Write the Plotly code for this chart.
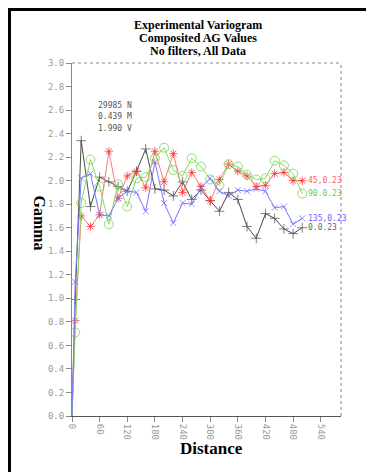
import plotly.graph_objects as go

lags = [0, 7, 20, 40, 60, 80, 100, 120, 140, 160, 180, 200, 220, 240, 260, 280,
        300, 320, 340, 360, 380, 400, 420, 440, 460, 480, 500]

gamma_0 = [0, 0.99, 2.34, 1.78, 2.03, 1.99, 1.95, 1.91, 2.08, 2.27, 1.93, 1.92, 1.87,
           1.99, 1.84, 1.92, 1.83, 1.74, 1.90, 1.84, 1.61, 1.51, 1.72, 1.68, 1.59, 1.55, 1.60]
gamma_45 = [0, 0.81, 1.70, 1.61, 1.71, 2.25, 1.85, 2.04, 2.08, 1.94, 2.25, 1.99, 2.23,
            1.90, 2.07, 1.95, 1.83, 2.01, 2.14, 2.08, 2.04, 1.95, 1.96, 2.06, 2.07, 2.00, 2.00]
gamma_90 = [0, 0.71, 1.81, 2.18, 1.95, 1.63, 1.97, 1.78, 2.02, 2.03, 2.19, 2.28, 2.09,
            2.04, 2.19, 2.12, 2.01, 1.96, 2.14, 2.12, 2.05, 2.01, 2.02, 2.17, 2.13, 2.06, 1.89]
gamma_135 = [0, 1.14, 2.02, 2.06, 1.71, 1.70, 1.85, 1.91, 1.90, 1.74, 2.16, 1.81, 1.64,
             1.81, 1.80, 1.94, 2.02, 1.91, 1.87, 1.92, 1.91, 1.93, 1.91, 1.77, 1.78, 1.63, 1.68]

series_labels = ["0.0.23", "45,0.23", "90.0.23", "135,0.23"]
x_ticks = [0, 60, 120, 180, 240, 300, 360, 420, 480, 540]
y_ticks = [round(0.2 * i, 1) for i in range(16)]
stats_text = ["29985 N", "0.439 M", "1.990 V"]
title_lines = ["Experimental Variogram", "Composited AG Values", "No filters, All Data"]

W, H = 374, 472
L, R, T, B = 64, 41, 55, 64
PW, PH = W - L - R, H - T - B

def px(x):
    return (x - L) / PW

def py(y):
    return (H - B - y) / PH

styles = [
    (gamma_0, "#4a4a4a", "#4a4a4a", "cross-thin", 7, "#666666"),
    (gamma_45, "#ff7878", "#ff2020", "asterisk-open", 7, "#ff6060"),
    (gamma_90, "#88dd66", "#66cc44", "circle-open", 9, "#66cc44"),
    (gamma_135, "#7777ff", "#6666ff", "x-thin", 6, "#6666ff"),
]

fig = go.Figure()
for (vals, lc, mc, sym, ms, tc), lab in zip(styles, series_labels):
    sizes = [0] + [ms] * (len(vals) - 1)
    fig.add_trace(go.Scatter(
        x=lags, y=vals, mode="lines+markers",
        line=dict(color=lc, width=1),
        marker=dict(symbol=sym, size=sizes, color=mc,
                    line=dict(color=mc, width=1)),
        showlegend=False, hoverinfo="skip"))
    fig.add_annotation(x=lags[-1], y=vals[-1], xref="x", yref="y", text=lab,
                       showarrow=False, xanchor="left", yanchor="middle", xshift=4,
                       font=dict(family="DejaVu Sans Mono", size=8, color=tc))

for i, s in enumerate(stats_text):
    fig.add_annotation(x=px(88), y=py(97 + 11.5 * i), xref="paper", yref="paper",
                       text=s, showarrow=False, xanchor="left", yanchor="middle",
                       font=dict(family="DejaVu Sans Mono", size=8, color="#555555"))

for i, s in enumerate(title_lines):
    fig.add_annotation(x=px(190), y=py(17 + 13 * i), xref="paper", yref="paper",
                       text="<b>" + s + "</b>", showarrow=False,
                       xanchor="center", yanchor="middle",
                       font=dict(family="Liberation Serif", size=12, color="#000000"))

fig.add_annotation(x=px(21), y=py(215), xref="paper", yref="paper",
                   text="<b>Gamma</b>", showarrow=False, textangle=90,
                   font=dict(family="Liberation Serif", size=16, color="#000000"))
fig.add_annotation(x=px(203), y=py(452), xref="paper", yref="paper",
                   text="<b>Distance</b>", showarrow=False,
                   font=dict(family="Liberation Serif", size=17, color="#000000"))

# plot frame (top/right dotted)
fig.add_shape(type="line", xref="paper", yref="paper", x0=0, x1=1, y0=1, y1=1,
              line=dict(color="#888888", width=1, dash="dot"))
fig.add_shape(type="line", xref="paper", yref="paper", x0=1, x1=1, y0=0, y1=1,
              line=dict(color="#888888", width=1, dash="dot"))
# outer border
fig.add_shape(type="rect", xref="paper", yref="paper",
              x0=px(1.5), x1=px(W - 1.5), y0=py(H - 1.5), y1=py(1.5),
              line=dict(color="#000000", width=3))

fig.update_xaxes(range=[0, 584], tickvals=x_ticks, ticktext=[str(v) for v in x_ticks],
                 tickangle=90, showgrid=False, zeroline=False, showline=True,
                 linecolor="#555555", linewidth=1, ticks="outside", ticklen=5,
                 tickcolor="#888888",
                 tickfont=dict(family="DejaVu Sans Mono", size=9, color="#999999"))
fig.update_yaxes(range=[0, 3.0], tickvals=y_ticks, ticktext=["%.1f" % v for v in y_ticks],
                 showgrid=False, zeroline=False, showline=True,
                 linecolor="#888888", linewidth=1, ticks="outside", ticklen=5,
                 tickcolor="#888888",
                 tickfont=dict(family="DejaVu Sans Mono", size=9, color="#999999"))

fig.update_layout(width=W, height=H, margin=dict(l=L, r=R, t=T, b=B),
                  paper_bgcolor="white", plot_bgcolor="white")

fig.write_html("out.html")
